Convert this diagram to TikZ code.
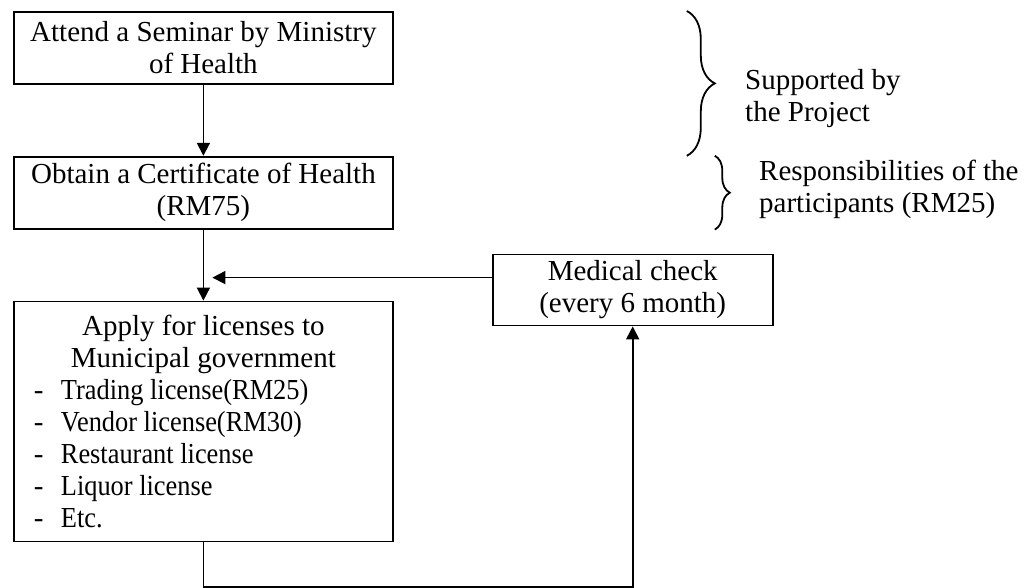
\documentclass[tikz,border=0pt]{standalone}
\usepackage{fontspec}
\setmainfont{Liberation Serif}
\newfontfamily\listfont[FakeStretch=0.91]{Liberation Serif}
\usetikzlibrary{positioning, arrows.meta, decorations.pathreplacing, calc}

\newcommand{\licitem}[1]{\makebox[189.5pt][l]{\hspace*{10pt}\makebox[13.5pt][l]{-}{\listfont #1}}}

\begin{document}
\begin{tikzpicture}[
    node distance = 35.5pt and 49pt,
    box/.style = {rectangle, draw, line width=0.9pt, align=center, minimum width=189.5pt, minimum height=36pt, inner sep=2pt, font=\fontsize{14.5pt}{16pt}\selectfont},
    medbox/.style = {box, minimum width=140pt, minimum height=35.5pt},
    listbox/.style = {box, minimum height=120pt, inner xsep=0pt},
    note/.style = {align=left, anchor=west, inner sep=0pt, font=\fontsize{14.5pt}{16pt}\selectfont},
    arrow/.style = {-{Triangle[length=6.5pt, width=6.5pt]}, line width=0.9pt},
    curly/.style = {decorate, decoration={brace, amplitude=#1}, line width=0.9pt}
]
    \useasboundingbox (0,0) rectangle (515pt,-294pt);

    \node[box, anchor=north west] (SEM) at (6.5pt,-5.5pt) {Attend a Seminar by Ministry\\of Health};
    \node[box, below=of SEM] (CERT) {Obtain a Certificate of Health\\(RM75)};
    \node[listbox, below=of CERT] (LIC)
        {Apply for licenses to\\Municipal government\\
         \licitem{Trading license(RM25)}\\
         \licitem{Vendor license(RM30)}\\
         \licitem{Restaurant license}\\
         \licitem{Liquor license}\\
         \licitem{Etc.}};

    \node[medbox, below right=12pt and 49pt of CERT] (MED) {Medical check\\(every 6 month)};

    \coordinate (suptip) at ($(SEM.north east)!0.5!(CERT.north east) + (160.5pt,0)$);
    \coordinate (resptip) at ($(CERT.east) + (168pt,0)$);
    \node[note, right=15pt of suptip, yshift=-7.5pt] (SUP) {Supported by\\the Project};
    \node[note, right=14.5pt of resptip, yshift=1.5pt] (RESP) {Responsibilities of the\\participants (RM25)};

    \draw[curly=14pt] ([xshift=146.5pt]SEM.north east) -- ([xshift=146.5pt]CERT.north east);
    \draw[curly=7.5pt] ([xshift=160.5pt]CERT.north east) -- ([xshift=160.5pt]CERT.south east);

    \coordinate[below=24pt of CERT.south] (join);
    \coordinate[below=22.5pt of LIC.south] (loop);

    \draw[arrow] (SEM) -- (CERT);
    \draw[arrow] (CERT) -- (LIC);
    \draw[arrow] (join -| MED.west) -- ([xshift=4.5pt]join);
    \draw[arrow] (LIC.south) -- (loop) -| (MED.south);
\end{tikzpicture}
\end{document}
